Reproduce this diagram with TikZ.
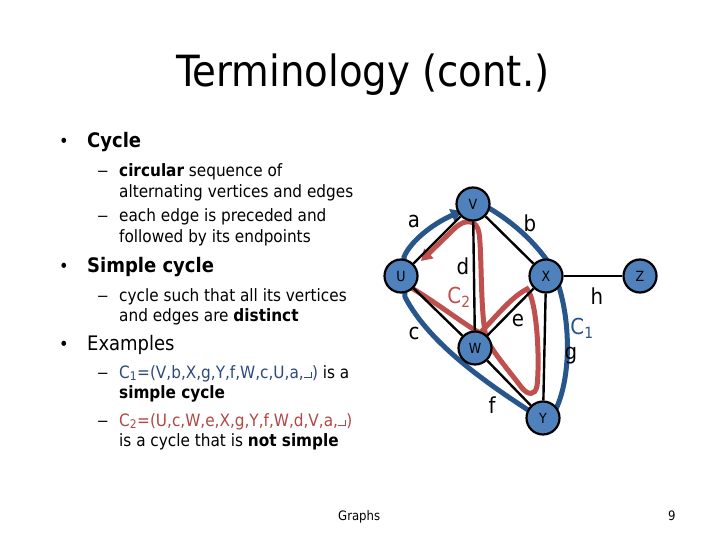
\documentclass[tikz,border=0pt]{standalone}
\usepackage{fontspec}
\setmainfont{DejaVu Sans Condensed}
\usetikzlibrary{arrows.meta}
\definecolor{nodeblue}{RGB}{79,129,189}
\definecolor{cblue}{RGB}{38,86,140}
\definecolor{cred}{RGB}{192,80,77}
\definecolor{tblue}{RGB}{43,75,126}
\definecolor{tred}{RGB}{176,72,69}
\newcommand\retsym{\rule{0.42em}{0.07em}\rule{0.07em}{0.38em}}
\newcommand\sdash{\scalebox{1.5}[1]{–}}
\begin{document}
\begin{tikzpicture}[x=1pt,y=-1pt,
  vtx/.style={circle,draw=black,line width=2.2pt,fill=nodeblue,minimum size=33pt,inner sep=0pt,font=\fontsize{14}{14}\selectfont},
  edge/.style={line width=2.4pt},
  lbl/.style={inner sep=0pt,font=\fontsize{22}{22}\selectfont},
  cyc1/.style={draw=cblue,line width=5pt,-{Triangle[length=11pt,width=13pt]}},
  cyc2/.style={draw=cred,line width=5pt,-{Triangle[length=11pt,width=13pt]}},
  big/.style={anchor=base west,inner sep=0pt,font=\fontsize{20}{20}\selectfont},
  txt/.style={anchor=base west,inner sep=0pt,font=\fontsize{17}{17}\selectfont},
  bul/.style={anchor=base west,inner sep=0pt,font=\fontsize{18}{18}\selectfont},
  foot/.style={anchor=base west,inner sep=0pt,font=\fontsize{13}{13}\selectfont},
]
\useasboundingbox (0,0) rectangle (720,540);
\fill[white] (0,0) rectangle (720,540);

% title
\node[anchor=base,inner sep=0pt,font=\fontsize{43}{43}\selectfont] (title) at (363,87) {Terminology (cont.)};

% text
\node[bul] (b1) at (59,148) {•};
\node[big] (t1) at (87,148) {\bfseries Cycle};
\node[txt] (d1) at (97,177) {\sdash};
\node[txt] (t2) at (119,177) {\textbf{circular} sequence of};
\node[txt] (t3) at (119,198) {alternating vertices and edges};
\node[txt] (d2) at (97,222) {\sdash};
\node[txt] (t4) at (119,222) {each edge is preceded and};
\node[txt] (t5) at (119,243) {followed by its endpoints};
\node[bul] (b2) at (59,272) {•};
\node[big] (t6) at (87,272) {\bfseries Simple cycle};
\node[txt] (d3) at (97,301) {\sdash};
\node[txt] (t7) at (119,301) {cycle such that all its vertices};
\node[txt] (t8) at (119,321) {and edges are \textbf{distinct}};
\node[bul] (b3) at (59,350) {•};
\node[big] (t9) at (87,350) {Examples};
\node[txt] (d4) at (97,378) {\sdash};
\node[txt] (t10) at (119,378) {\textcolor{tblue}{C\textsubscript{1}=(V,b,X,g,Y,f,W,c,U,a,\retsym)} is a};
\node[txt] (t11) at (119,398) {\textbf{simple cycle}};
\node[txt] (d5) at (97,426) {\sdash};
\node[txt] (t12) at (119,426) {\textcolor{tred}{C\textsubscript{2}=(U,c,W,e,X,g,Y,f,W,d,V,a,\retsym)}};
\node[txt] (t13) at (119,446) {is a cycle that is \textbf{not simple}};

% footer
\node[foot] (ft) at (338,520) {Graphs};
\node[foot] (pg) at (668,520) {9};

% cycle C1 (blue)
\draw[cyc1] (478,202) .. controls (505,216) and (530,236) .. (549,263)
  .. controls (570,300) and (574,370) .. (556,409)
  -- (543,418) -- (528,410)
  .. controls (490,385) and (430,345) .. (405,297)
  -- (404,257)
  .. controls (410,242) and (432,224) .. (462,211);

% cycle C2 (red)
\draw[cyc2] (410,287) .. controls (440,305) and (465,325) .. (480,333)
  .. controls (495,318) and (510,298) .. (527,289)
  .. controls (537,300) and (540,360) .. (537,386)
  .. controls (535,396) and (528,395) .. (522,388)
  .. controls (510,372) and (495,355) .. (487,340)
  .. controls (480,320) and (482,250) .. (479,233)
  .. controls (477,220) and (466,218) .. (455,228)
  -- (421,261);

% vertices
\node[vtx] (V) at (473,204) {V};
\node[vtx] (U) at (401,276) {U};
\node[vtx] (X) at (546,276) {X};
\node[vtx] (Z) at (640,276) {Z};
\node[vtx] (W) at (475,348) {W};
\node[vtx] (Y) at (543,418) {Y};

% edges
\draw[edge] (U) -- (V);
\draw[edge] (V) -- (X);
\draw[edge] (V) -- (W);
\draw[edge] (U) -- (W);
\draw[edge] (W) -- (X);
\draw[edge] (W) -- (Y);
\draw[edge] (X) -- (Y);
\draw[edge] (X) -- (Z);

% edge labels
\node[lbl] (la) at (414,221) {a};
\node[lbl] (lb) at (530,223) {b};
\node[lbl] (lc) at (414,333) {c};
\node[lbl] (ld) at (463,266) {d};
\node[lbl] (le) at (518,320) {e};
\node[lbl] (lf) at (492,405) {f};
\node[lbl] (lg) at (571,356) {g};
\node[lbl] (lh) at (597,296) {h};
\node[lbl,text=cred] (c2) at (459,297) {C\textsubscript{2}};
\node[lbl,text=cblue] (c1) at (582,328) {C\textsubscript{1}};
\end{tikzpicture}
\end{document}
